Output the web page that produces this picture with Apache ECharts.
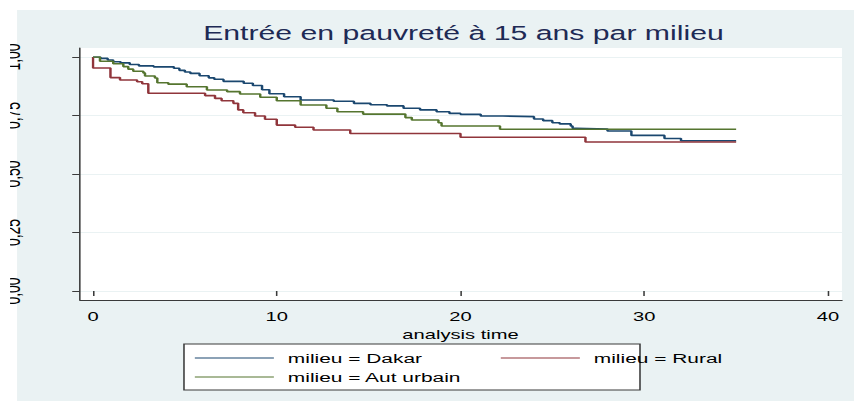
<!DOCTYPE html>
<html>
<head>
<meta charset="utf-8">
<script src="https://cdn.jsdelivr.net/npm/echarts@6/dist/echarts.min.js"></script>
<style>
html, body { margin: 0; padding: 0; background: #fff; overflow: hidden; }
/* the reference is a Stata graph squeezed into a wide window: draw narrow, stretch sideways */
#main { width: 551px; height: 401px; transform: scaleX(1.55); transform-origin: 0 0; }
</style>
</head>
<body>
<div id="main"></div>
<script>
// Kaplan-Meier steps: time of each drop and survival after it
var dakarT = [0, 0.4, 0.8, 1.1, 1.5, 2.0, 2.5, 3.3, 4.4, 4.7, 5.0, 5.3, 5.8, 6.3, 6.6, 7.1, 8.2, 8.7, 9.2, 9.6, 10.4, 11.3, 13.1, 14.2, 15.1, 16.0, 16.9, 17.8, 18.7, 19.4, 20.0, 21.1, 22.3, 24.0, 24.5, 25.0, 25.4, 26.0, 26.1, 26.3, 28.0, 29.3, 31.1, 32.0, 35.0];
var dakarS = [1.000, 0.994, 0.987, 0.980, 0.975, 0.968, 0.962, 0.958, 0.952, 0.943, 0.936, 0.930, 0.920, 0.911, 0.905, 0.896, 0.888, 0.878, 0.860, 0.843, 0.830, 0.816, 0.811, 0.802, 0.796, 0.791, 0.781, 0.774, 0.766, 0.759, 0.755, 0.748, 0.745, 0.735, 0.728, 0.719, 0.714, 0.705, 0.695, 0.692, 0.684, 0.665, 0.652, 0.642, 0.642];

var ruralT = [0, 0, 0.95, 1.47, 2.4, 2.68, 3.01, 6.1, 6.64, 7.0, 7.64, 7.9, 8.18, 8.82, 9.36, 10.0, 11.0, 12.0, 14.0, 20.0, 26.8, 35.0];
var ruralS = [1.000, 0.953, 0.912, 0.902, 0.894, 0.886, 0.845, 0.835, 0.823, 0.813, 0.802, 0.774, 0.762, 0.748, 0.734, 0.709, 0.700, 0.688, 0.673, 0.657, 0.637, 0.637];

var urbainT = [0, 0.38, 1.1, 1.65, 1.92, 2.19, 2.74, 2.83, 3.37, 3.5, 4.1, 5.1, 6.2, 7.3, 8.0, 9.1, 10.0, 11.3, 12.7, 13.3, 14.7, 17.0, 17.35, 18.8, 18.97, 22.15, 35.0];
var urbainS = [1.000, 0.982, 0.971, 0.959, 0.948, 0.939, 0.932, 0.919, 0.910, 0.890, 0.884, 0.873, 0.859, 0.852, 0.842, 0.828, 0.813, 0.795, 0.781, 0.766, 0.756, 0.741, 0.731, 0.719, 0.705, 0.691, 0.691];

var groupNames = ['milieu = Dakar', 'milieu = Rural', 'milieu = Aut urbain'];
var groupColors = ['#1a476f', '#90353b', '#55752f'];
var xTicks = [0, 40, 10];          // min, max, step
var yTicks = [0, 1, 0.25];

var font = "'Liberation Sans', Arial, sans-serif";

function pairs(t, s) {
    return t.map(function (v, i) { return [v, s[i]]; });
}

var chart = echarts.init(document.getElementById('main'), null, { renderer: 'svg' });

var legendBase = {
    orient: 'vertical', top: 351, padding: 0,
    itemWidth: 51, itemHeight: 14, itemGap: 5,
    lineStyle: { width: 1 },
    itemStyle: { opacity: 0 },     // no marker, only the line sample
    textStyle: { fontSize: 13.5, color: '#000', fontFamily: font, padding: [0, 0, 0, 4] }
};

var option = {
    animation: false,
    textStyle: { fontFamily: font },
    title: {
        text: 'Entrée en pauvreté à 15 ans par milieu',
        left: 299,
        top: 23,
        padding: 0,
        textAlign: 'center',
        textStyle: { fontSize: 19.5, fontWeight: 'normal', color: '#1e2a55', fontFamily: font }
    },
    graphic: [
        {   // graph region
            type: 'rect', z: -10, silent: true,
            shape: { x: 11, y: 10, width: 545, height: 395 },
            style: { fill: '#eaf2f3' }
        },
        {   // legend frame
            type: 'rect', z: 1, silent: true,
            shape: { x: 118.7, y: 344, width: 294.2, height: 46 },
            style: { fill: '#fff', stroke: '#3a3a3a', lineWidth: 1 }
        },
        {   // the y labels are cut in half on the left edge
            type: 'rect', z: 100, silent: true,
            shape: { x: 0, y: 0, width: 6.5, height: 401 },
            style: { fill: '#fff' }
        }
    ],
    legend: [
        Object.assign({}, legendBase, { data: [groupNames[0], groupNames[2]], left: 125.2 }),
        Object.assign({}, legendBase, { data: [groupNames[1]], left: 322.6 })
    ],
    grid: [
        // 0: white plot region with its two spines
        { left: 51.6, top: 48, width: 491.6, height: 252, show: true, backgroundColor: '#fff', borderWidth: 0 },
        // 1: y scale, gridlines across the full width
        { left: 51.6, top: 57, width: 491.6, height: 234 },
        // 2: data
        { left: 60, top: 57, width: 474.2, height: 234 }
    ],
    xAxis: [
        {
            gridIndex: 0, type: 'value', min: 0, max: 1,
            axisLine: { show: true, lineStyle: { color: '#3a3a3a', width: 1 } },
            axisTick: { show: false }, axisLabel: { show: false }, splitLine: { show: false }
        },
        {
            gridIndex: 1, type: 'value', min: 0, max: 1, show: false
        },
        {
            gridIndex: 2, type: 'value', min: xTicks[0], max: xTicks[1], interval: xTicks[2],
            offset: 9,
            axisLine: { show: false },
            axisTick: { show: true, length: 5, lineStyle: { color: '#3a3a3a' } },
            axisLabel: { fontSize: 13, color: '#000', margin: 10, fontFamily: font },
            splitLine: { show: false },
            name: 'analysis time', nameLocation: 'middle', nameGap: 17,
            nameTextStyle: { fontSize: 13, color: '#000', fontFamily: font }
        }
    ],
    yAxis: [
        {
            gridIndex: 0, type: 'value', min: 0, max: 1,
            axisLine: { show: true, lineStyle: { color: '#3a3a3a', width: 1 } },
            axisTick: { show: false }, axisLabel: { show: false }, splitLine: { show: false }
        },
        {
            gridIndex: 1, type: 'value', min: yTicks[0], max: yTicks[1], interval: yTicks[2],
            axisLine: { show: false },
            axisTick: { show: true, length: 5, lineStyle: { color: '#3a3a3a' } },
            axisLabel: {
                rotate: 90, margin: 37, fontSize: 14, color: '#000', fontFamily: font,
                formatter: function (v) { return v.toFixed(2).replace('.', ','); }
            },
            splitLine: { show: true, lineStyle: { color: '#eaf2f3', width: 1 } }
        },
        {
            gridIndex: 2, type: 'value', min: yTicks[0], max: yTicks[1], show: false
        }
    ],
    series: [
        { name: groupNames[0], data: pairs(dakarT, dakarS) },
        { name: groupNames[1], data: pairs(ruralT, ruralS) },
        { name: groupNames[2], data: pairs(urbainT, urbainS) }
    ].map(function (s, i) {
        return {
            name: s.name, type: 'line', step: 'end',
            xAxisIndex: 2, yAxisIndex: 2,
            symbol: 'none', silent: true,
            lineStyle: { color: groupColors[i], width: 1.6 },
            itemStyle: { color: groupColors[i] },
            data: s.data
        };
    })
};

chart.setOption(option);
</script>
</body>
</html>
